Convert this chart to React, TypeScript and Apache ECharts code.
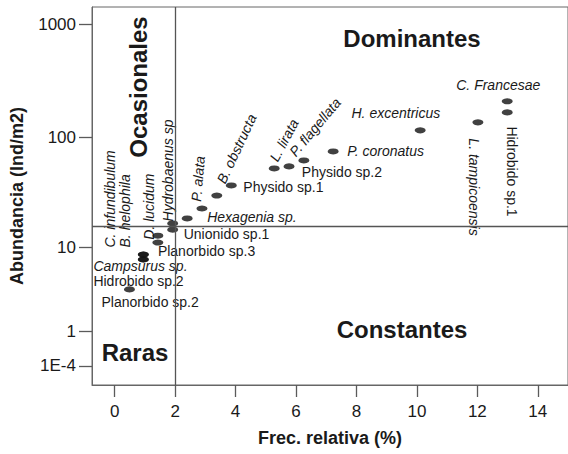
import React, { useEffect, useRef } from "react";
import * as echarts from "echarts";

// Species, relative frequency (%) and abundance (ind/m2)
const species = [
  "Planorbido sp.2",
  "Campsurus sp.",
  "Hidrobido sp.2",
  "C. infundibulum",
  "B. helophila",
  "D. lucidum",
  "Planorbido sp.3",
  "Hydrobaenus sp",
  "Unionido sp.1",
  "Hexagenia sp.",
  "P. alata",
  "B. obstructa",
  "Physido sp.1",
  "L. lirata",
  "P. flagellata",
  "Physido sp.2",
  "P. coronatus",
  "H. excentricus",
  "L. tampicoensis",
  "Hidrobido sp.1",
  "C. Francesae",
];
const frecRelativa = [
  0.49, 0.95, 0.95, 0.95, 0.95, 1.43, 1.43, 1.92, 1.92, 2.4, 2.89, 3.38, 3.86,
  5.28, 5.77, 6.26, 7.23, 10.11, 12.02, 12.99, 12.99,
];
const abundancia = [
  3.7, 8.5, 7.6, 8.5, 7.6, 12.9, 11.1, 16.8, 14.7, 18.7, 23.1, 30.3, 37.4,
  53.1, 55.4, 62.6, 75.3, 115.8, 136.3, 167, 209,
];

// Axis ticks
const xTicks = [0, 2, 4, 6, 8, 10, 12, 14];
const yTickValues = [0.0001, 1, 10, 100, 1000];
const yTickLabels = ["1E-4", "1", "10", "100", "1000"];

// Olmstead-Tukey thresholds (mean frequency / mean abundance)
const umbralFrec = 2;
const umbralAbund = 16;

// Quadrant names
const cuadrantes = ["Ocasionales", "Dominantes", "Constantes", "Raras"];

// Label placement for each species: offset from the point, rotation, alignment, italic
const labelLayout: [number, number, number, string, boolean][] = [
  [-28, 13, 0, "left", false],
  [-50, 11, 0, "left", true],
  [-50, 22, 0, "left", false],
  [-33, -7, 90, "left", true],
  [-18, -12, 90, "left", true],
  [-9, 4, 90, "left", true],
  [0, 8, 0, "left", false],
  [-5, -2, 90, "left", true],
  [11, 4, 0, "left", false],
  [20, -1, 0, "left", true],
  [-6, -7, 85, "left", true],
  [4, -13, 65, "left", true],
  [12, 2, 0, "left", false],
  [-1, -8, 62, "left", true],
  [3, -12, 50, "left", true],
  [-2, 12, 0, "left", false],
  [14, 0, 0, "left", true],
  [20, -17, 0, "right", true],
  [-4, 16, -90, "left", true],
  [5, 14, -90, "left", false],
  [-9, -16, 0, "center", true],
];

const FONT = "'Liberation Sans', Arial, Helvetica, sans-serif";
const TEXT = "#1a1a1a";
const AXIS = "#5a5a5a";

// Abundance is plotted on a log10(x + 1) scale
const toY = (a: number) => Math.log10(a + 1);

export default function App() {
  const ref = useRef<HTMLDivElement>(null);

  useEffect(() => {
    if (!ref.current) return;
    const chart = echarts.init(ref.current, null, { renderer: "svg" });

    const yCustom = yTickValues.map(toY);
    const points = frecRelativa.map((f, i) => [f, toY(abundancia[i])]);

    chart.setOption({
      animation: false,
      backgroundColor: "#ffffff",
      grid: {
        left: 92,
        top: 7,
        right: -11,
        bottom: 69,
        show: true,
        borderColor: "#666",
        borderWidth: 1,
        backgroundColor: "transparent",
      },
      xAxis: {
        type: "value",
        min: -0.75,
        max: 15,
        name: "Frec. relativa (%)",
        nameLocation: "middle",
        nameGap: 44,
        nameTextStyle: { fontFamily: FONT, fontSize: 18, fontWeight: "bold", color: TEXT },
        axisLine: { show: true, onZero: false, lineStyle: { color: "#666", width: 1 } },
        axisTick: {
          show: true,
          inside: false,
          length: 12,
          customValues: xTicks,
          lineStyle: { color: AXIS, width: 1.3 },
        },
        axisLabel: {
          customValues: xTicks,
          margin: 18,
          fontFamily: FONT,
          fontSize: 17,
          color: TEXT,
        },
        splitLine: { show: false },
      },
      yAxis: {
        type: "value",
        min: -0.167,
        max: 3.15,
        name: "Abundancia (Ind/m2)",
        nameLocation: "middle",
        nameGap: 66,
        nameTextStyle: { fontFamily: FONT, fontSize: 18, fontWeight: "bold", color: TEXT },
        axisLine: { show: true, onZero: false, lineStyle: { color: "#666", width: 1 } },
        axisTick: {
          show: true,
          inside: false,
          length: 13,
          customValues: yCustom,
          lineStyle: { color: AXIS, width: 1.3 },
        },
        axisLabel: {
          customValues: yCustom,
          margin: 16,
          fontFamily: FONT,
          fontSize: 17,
          color: TEXT,
          formatter: (v: number) => {
            let best = 0;
            yCustom.forEach((c, i) => {
              if (Math.abs(c - v) < Math.abs(yCustom[best] - v)) best = i;
            });
            return yTickLabels[best];
          },
        },
        splitLine: { show: false },
      },
      series: [
        {
          type: "scatter",
          data: points,
          symbol: "circle",
          symbolSize: [11, 6],
          itemStyle: { color: "#111" },
          markLine: {
            silent: true,
            symbol: "none",
            label: { show: false },
            lineStyle: { color: "#555", width: 1.3, type: "solid" },
            data: [{ xAxis: umbralFrec }, { yAxis: toY(umbralAbund) }],
          },
        },
      ],
    });

    // Species names next to their points
    const labels = points.map((p, i) => {
      const [px, py] = chart.convertToPixel({ gridIndex: 0 }, p) as number[];
      const [dx, dy, rot, align, italic] = labelLayout[i];
      return {
        type: "text",
        x: px + dx,
        y: py + dy,
        rotation: (rot * Math.PI) / 180,
        silent: true,
        style: {
          text: species[i],
          fontFamily: FONT,
          fontSize: 14,
          lineHeight: 14,
          fontStyle: italic ? "italic" : "normal",
          fill: TEXT,
          align,
          verticalAlign: "middle",
        },
      };
    });

    const quadStyle = (text: string) => ({
      text,
      fontFamily: FONT,
      fontSize: 24,
      fontWeight: "bold",
      fill: TEXT,
      align: "center",
      verticalAlign: "middle",
    });

    chart.setOption({
      graphic: [
        { type: "text", x: 138, y: 87, rotation: Math.PI / 2, silent: true, style: quadStyle(cuadrantes[0]) },
        { type: "text", x: 412, y: 38, silent: true, style: quadStyle(cuadrantes[1]) },
        { type: "text", x: 402, y: 329, silent: true, style: quadStyle(cuadrantes[2]) },
        { type: "text", x: 135, y: 352, silent: true, style: quadStyle(cuadrantes[3]) },
        ...labels,
      ],
    });

    return () => chart.dispose();
  }, []);

  return (
    <div
      ref={ref}
      style={{ position: "absolute", left: 0, top: 0, width: 568, height: 454, background: "#fff" }}
    />
  );
}
